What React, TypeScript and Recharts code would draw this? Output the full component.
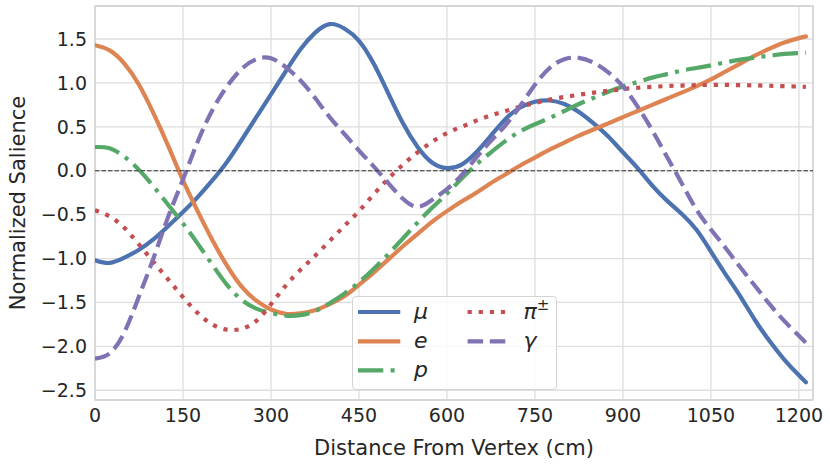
import React from 'react';
import {
  LineChart,
  Line,
  XAxis,
  YAxis,
  CartesianGrid,
  ReferenceLine,
  ReferenceArea,
  Legend,
} from 'recharts';

// ---- data ----
const distances = [
  0, 25, 50, 75, 100, 125, 150, 175, 200, 225,
  250, 275, 300, 325, 350, 375, 400, 425, 450, 475,
  500, 525, 550, 575, 600, 625, 650, 675, 700, 725,
  750, 775, 800, 825, 850, 875, 900, 925, 950, 975,
  1000, 1025, 1050, 1075, 1100, 1125, 1150, 1175, 1200, 1212,
];

const muValues = [
  -1.02, -1.05, -0.99, -0.9, -0.78, -0.63, -0.47, -0.3, -0.11, 0.1,
  0.35, 0.61, 0.87, 1.13, 1.38, 1.57, 1.67, 1.62, 1.48, 1.22,
  0.88, 0.54, 0.27, 0.09, 0.03, 0.07, 0.21, 0.4, 0.59, 0.72,
  0.785, 0.8, 0.76, 0.67, 0.54, 0.39, 0.21, 0.03, -0.17, -0.34,
  -0.49, -0.67, -0.92, -1.18, -1.43, -1.7, -1.94, -2.15, -2.33, -2.41,
];

const eValues = [
  1.43, 1.37, 1.22, 0.98, 0.65, 0.28, -0.11, -0.46, -0.79, -1.08,
  -1.32, -1.48, -1.58, -1.63, -1.625, -1.59, -1.52, -1.43, -1.3, -1.16,
  -1.01, -0.86, -0.72, -0.58, -0.46, -0.35, -0.25, -0.14, -0.04, 0.06,
  0.15, 0.24, 0.32, 0.4, 0.47, 0.54, 0.61, 0.68, 0.75, 0.82,
  0.89, 0.96, 1.04, 1.13, 1.22, 1.31, 1.39, 1.46, 1.51, 1.53,
];

const pValues = [
  0.27, 0.255, 0.16, 0.01, -0.18, -0.39, -0.6, -0.83, -1.07, -1.3,
  -1.47, -1.57, -1.62, -1.65, -1.645, -1.6, -1.51, -1.4, -1.27, -1.12,
  -0.95, -0.77, -0.59, -0.42, -0.26, -0.09, 0.07, 0.21, 0.34, 0.45,
  0.53, 0.6, 0.68, 0.76, 0.83, 0.9, 0.96, 1.01, 1.06, 1.1,
  1.14, 1.17, 1.2, 1.235, 1.265, 1.29, 1.31, 1.33, 1.34, 1.345,
];

const piValues = [
  -0.45, -0.52, -0.65, -0.84, -1.04, -1.24, -1.44, -1.62, -1.75, -1.81,
  -1.8, -1.71, -1.52, -1.31, -1.13, -0.97, -0.8, -0.63, -0.46, -0.27,
  -0.09, 0.07, 0.21, 0.33, 0.43, 0.5, 0.57, 0.63, 0.68, 0.73,
  0.77, 0.81, 0.84, 0.865, 0.89, 0.91, 0.93, 0.945, 0.955, 0.965,
  0.97, 0.975, 0.977, 0.977, 0.975, 0.972, 0.968, 0.963, 0.958, 0.955,
];

const gammaValues = [
  -2.14, -2.08, -1.84, -1.43, -0.99, -0.52, -0.1, 0.33, 0.69, 0.96,
  1.16, 1.27, 1.28, 1.18, 1.03, 0.83, 0.61, 0.42, 0.23, 0.05,
  -0.14, -0.32, -0.41, -0.33, -0.21, -0.05, 0.15, 0.34, 0.52, 0.74,
  0.98, 1.17, 1.27, 1.285, 1.23, 1.12, 0.96, 0.73, 0.46, 0.16,
  -0.14, -0.44, -0.67, -0.88, -1.1, -1.31, -1.52, -1.71, -1.88, -1.96,
];

const xTicks = [0, 150, 300, 450, 600, 750, 900, 1050, 1200];
const yTicks = [-2.5, -2.0, -1.5, -1.0, -0.5, 0.0, 0.5, 1.0, 1.5];

const X_DOMAIN: [number, number] = [0, 1224];
const Y_DOMAIN: [number, number] = [-2.611, 1.876];

const SERIES = [
  { key: 'mu', label: 'μ', color: '#4C72B0', dash: undefined as string | undefined },
  { key: 'e', label: 'e', color: '#DD8452', dash: undefined as string | undefined },
  { key: 'p', label: 'p', color: '#55A868', dash: '25.3 7.3 4 7.3' },
  { key: 'pi', label: 'π', color: '#C44E52', dash: '4.2 6.9' },
  { key: 'gamma', label: 'γ', color: '#8172B3', dash: '15.5 6.7' },
];

const data = distances.map((x, i) => ({
  x,
  mu: muValues[i],
  e: eValues[i],
  p: pValues[i],
  pi: piValues[i],
  gamma: gammaValues[i],
}));

const FONT = 'DejaVu Sans, Verdana, sans-serif';
const TEXT = '#262626';
const LW = 4.2;

const fmtY = (v: number) => v.toFixed(1).replace('-', '\u2212');

const YLabel = (props: any) => {
  const vb = props.viewBox || { x: 0, y: 6, width: 95, height: 394 };
  const cy = vb.y + vb.height / 2;
  const bx = 24.5;
  return (
    <text
      x={bx}
      y={cy}
      transform={`rotate(-90, ${bx}, ${cy})`}
      textAnchor="middle"
      fill={TEXT}
      fontSize={21}
      fontFamily={FONT}
    >
      Normalized Salience
    </text>
  );
};

const XLabel = (props: any) => {
  const vb = props.viewBox || { x: 95, y: 400, width: 718, height: 66 };
  const cx = vb.x + vb.width / 2;
  return (
    <text x={cx} y={455} textAnchor="middle" fill={TEXT} fontSize={21} fontFamily={FONT}>
      Distance From Vertex (cm)
    </text>
  );
};

const LegendBox = () => {
  const rows = [16, 45.3, 74.3];
  const cells = [
    { s: SERIES[0], col: 0, row: 0 },
    { s: SERIES[1], col: 0, row: 1 },
    { s: SERIES[2], col: 0, row: 2 },
    { s: SERIES[3], col: 1, row: 0 },
    { s: SERIES[4], col: 1, row: 1 },
  ];
  const handleX = [6, 115.6];
  const labelX = [62, 171.5];
  return (
    <div
      style={{
        position: 'relative',
        width: 205,
        height: 94.3,
        boxSizing: 'border-box',
        border: '1px solid #d4d4d4',
        borderRadius: 4,
        background: 'rgba(255,255,255,0.8)',
      }}
    >
      <svg width={205} height={95} style={{ position: 'absolute', left: -1, top: -1, overflow: 'visible' }}>
        {cells.map(({ s, col, row }) => (
          <g key={s.key}>
            <line
              x1={handleX[col]}
              x2={handleX[col] + 42.3}
              y1={rows[row]}
              y2={rows[row]}
              stroke={s.color}
              strokeWidth={LW}
              strokeDasharray={s.dash}
              strokeLinecap="butt"
            />
            <text
              x={labelX[col]}
              y={rows[row] + 7}
              fill={TEXT}
              fontSize={22}
              fontStyle="italic"
              fontFamily={FONT}
            >
              {s.label}
              {s.key === 'pi' ? (
                <tspan dy={-9} fontSize={15} fontStyle="normal">
                  ±
                </tspan>
              ) : null}
            </text>
          </g>
        ))}
      </svg>
    </div>
  );
};

export default function App() {
  return (
    <div style={{ position: 'absolute', left: 0, top: 0, width: 830, height: 466, background: '#fff' }}>
      <LineChart
        width={830}
        height={466}
        data={data}
        margin={{ top: 6, right: 17, bottom: 0, left: 0 }}
      >
        <CartesianGrid stroke="#dedede" strokeWidth={1.3} />
        <XAxis
          type="number"
          dataKey="x"
          domain={X_DOMAIN}
          ticks={xTicks}
          allowDataOverflow
          height={66}
          tickLine={false}
          axisLine={false}
          tickMargin={2.5}
          tick={{ fill: TEXT, fontSize: 19, fontFamily: FONT }}
          label={<XLabel />}
        />
        <YAxis
          type="number"
          domain={Y_DOMAIN}
          ticks={yTicks}
          allowDataOverflow
          width={95}
          tickLine={false}
          axisLine={false}
          tickFormatter={fmtY}
          tick={{ fill: TEXT, fontSize: 19, fontFamily: FONT }}
          label={<YLabel />}
        />
        <ReferenceArea
          x1={X_DOMAIN[0]}
          x2={X_DOMAIN[1]}
          y1={Y_DOMAIN[0]}
          y2={Y_DOMAIN[1]}
          fill="none"
          fillOpacity={0}
          stroke="#d0d0d0"
          strokeWidth={1.3}
          ifOverflow="visible"
        />
        {SERIES.map((s) => (
          <Line
            key={s.key}
            type="natural"
            dataKey={s.key}
            name={s.label}
            stroke={s.color}
            strokeWidth={LW}
            strokeDasharray={s.dash}
            strokeLinecap={s.dash ? 'butt' : 'round'}
            dot={false}
            activeDot={false}
            isAnimationActive={false}
          />
        ))}
        <ReferenceLine y={0} stroke="#333333" strokeWidth={1.1} strokeDasharray="4.5 2" ifOverflow="visible" />
        <Legend
          layout="vertical"
          align="center"
          verticalAlign="middle"
          width={205}
          height={95}
          wrapperStyle={{ left: 351.7, top: 295.7, width: 205, height: 95, right: 'auto', bottom: 'auto', margin: 0 }}
          content={() => <LegendBox />}
        />
      </LineChart>
    </div>
  );
}
